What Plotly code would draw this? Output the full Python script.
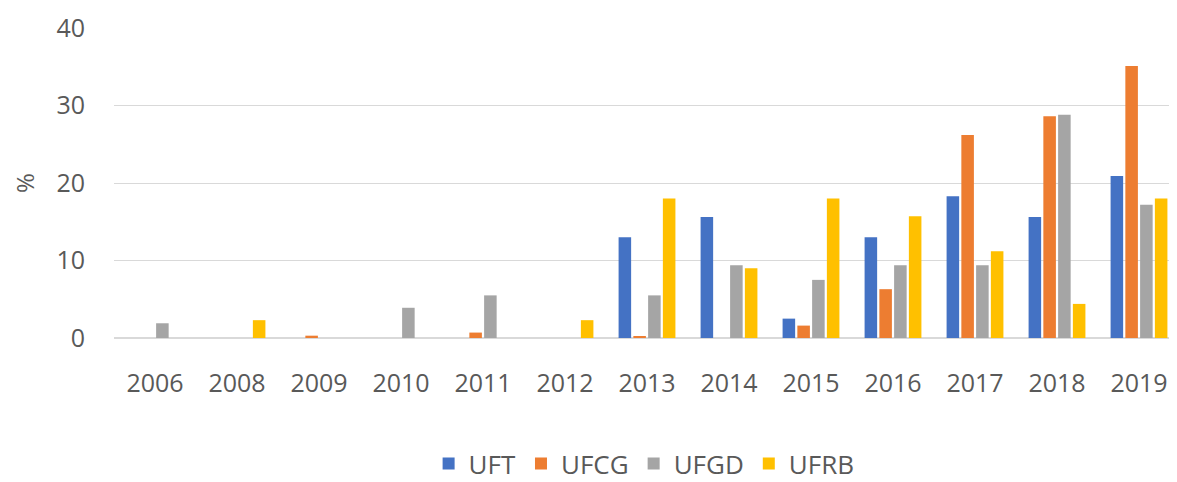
import plotly.graph_objects as go

years = ["2006", "2008", "2009", "2010", "2011", "2012", "2013", "2014", "2015", "2016", "2017", "2018", "2019"]
uft  = [0, 0, 0, 0, 0, 0, 13.0, 15.6, 2.5, 13.0, 18.3, 15.6, 20.9]
ufcg = [0, 0, 0.3, 0, 0.7, 0, 0.2, 0, 1.6, 6.3, 26.2, 28.6, 35.1]
ufgd = [1.9, 0, 0, 3.9, 5.5, 0, 5.5, 9.4, 7.5, 9.4, 9.4, 28.8, 17.2]
ufrb = [0, 2.3, 0, 0, 0, 2.3, 18.0, 9.0, 18.0, 15.7, 11.2, 4.4, 18.0]

series = [("UFT", uft, "#4472C4"), ("UFCG", ufcg, "#ED7D31"),
          ("UFGD", ufgd, "#A5A5A5"), ("UFRB", ufrb, "#FFC000")]

fig = go.Figure()
for name, vals, color in series:
    fig.add_trace(go.Bar(x=list(range(len(years))), y=vals, name=name, marker_color=color,
                         marker_line_width=0))

font = dict(family="Open Sans, Liberation Sans, sans-serif", size=25, color="#595959")
fig.update_layout(
    width=1162, height=474,
    margin=dict(l=106, r=0, t=20, b=144, autoexpand=False),
    plot_bgcolor="white", paper_bgcolor="white",
    barmode="group", bargap=0.28, bargroupgap=0.15,
    font=font,
    showlegend=True,
    legend=dict(orientation="h", x=0.502, xanchor="center", y=-0.405, yanchor="middle",
                font=dict(size=26, color="#595959"), itemwidth=30, traceorder="normal",
                tracegroupgap=0),
    xaxis=dict(tickmode="array", tickvals=list(range(len(years))), ticktext=years,
               range=[-0.5, 12.378], showgrid=False, zeroline=False, showline=False,
               ticks="", ticklabelstandoff=28, tickfont=font, automargin=False),
    yaxis=dict(range=[0, 40], dtick=10, showgrid=True, gridcolor="#D9D9D9", gridwidth=1,
               zeroline=True, zerolinecolor="#D9D9D9", zerolinewidth=1.5,
               ticks="", ticklabelstandoff=28, tickfont=font, automargin=False,
               title=dict(text="%", font=dict(size=24, color="#595959"), standoff=38)),
)
fig.write_html("out.html")
